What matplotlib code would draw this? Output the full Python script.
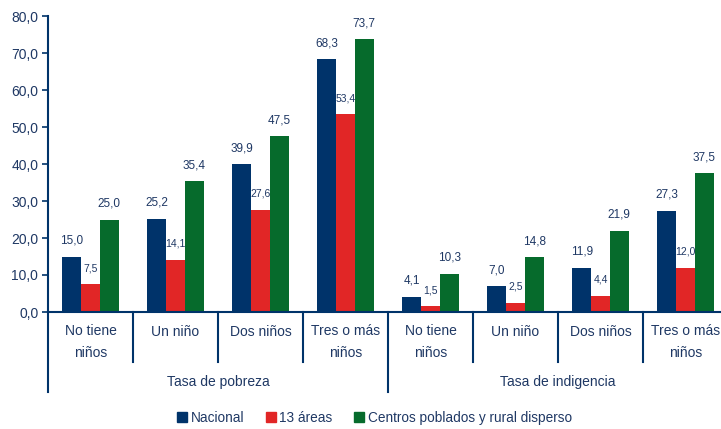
import matplotlib
matplotlib.use("Agg")
import matplotlib.pyplot as plt
from matplotlib.lines import Line2D

categorias = ["No tiene\nniños", "Un niño", "Dos niños", "Tres o más\nniños",
              "No tiene\nniños", "Un niño", "Dos niños", "Tres o más\nniños"]
grupos = ["Tasa de pobreza", "Tasa de indigencia"]
nacional = [15.0, 25.2, 39.9, 68.3, 4.1, 7.0, 11.9, 27.3]
areas13 = [7.5, 14.1, 27.6, 53.4, 1.5, 2.5, 4.4, 12.0]
rural = [25.0, 35.4, 47.5, 73.7, 10.3, 14.8, 21.9, 37.5]
series = ["Nacional", "13 áreas", "Centros poblados y rural disperso"]

azul = "#00336a"
rojo = "#e12626"
verde = "#066b2c"
texto = "#1f3864"

plt.rcParams['font.family'] = ['Liberation Sans', 'DejaVu Sans']

W, H = 721, 429
fig = plt.figure(figsize=(W / 100, H / 100), dpi=100)
# el eje va de x=48 a x=728 px (la ultima categoria queda recortada)
ax = fig.add_axes([48 / W, (H - 312) / H, 680 / W, 296 / H])

ancho = 0.22
x = [i + 0.5 for i in range(len(categorias))]
datos = [(nacional, azul, -ancho, 8.5), (areas13, rojo, 0, 7.5), (rural, verde, ancho, 8.5)]
for valores, color, desp, fs in datos:
    xs = [xi + desp for xi in x]
    barras = ax.bar(xs, valores, width=ancho, color=color, linewidth=0)
    for b, v in zip(barras, valores):
        ax.annotate(f"{v:.1f}".replace(".", ","), (b.get_x() + b.get_width() / 2, v),
                    xytext=(0, 16), textcoords="offset pixels", ha="center", va="center",
                    fontsize=fs, color=texto)

ax.set_xlim(0, 8)
ax.set_ylim(0, 80)
ax.set_yticks(range(0, 81, 10))
ax.set_yticklabels([f"{v},0" for v in range(0, 81, 10)], fontsize=10, color=texto)
ax.set_xticks([])
ax.tick_params(axis="y", direction="out", length=4, width=1.2, color=azul, pad=3)

for s in ["top", "right"]:
    ax.spines[s].set_visible(False)
for s in ["left", "bottom"]:
    ax.spines[s].set_color(azul)
    ax.spines[s].set_linewidth(1.5)

tr = ax.get_xaxis_transform()
h = 296
# lineas divisorias bajo el eje
for i in range(1, 8):
    abajo = -80 / h if i == 4 else -50 / h
    ax.plot([i, i], [0, abajo], transform=tr, color=azul, lw=1.5, clip_on=False)
ax.plot([0, 0], [0, -80 / h], transform=tr, color=azul, lw=1.5, clip_on=False)

for xi, c in zip(x, categorias):
    yc = -30 / h if "\n" in c else -20 / h
    ax.text(xi, yc, c, transform=tr, ha="center", va="center", fontsize=10,
            color=texto, linespacing=1.7)
for j, g in enumerate(grupos):
    ax.text(2 + 4 * j, -70 / h, g, transform=tr, ha="center", va="center",
            fontsize=10, color=texto)

handles = [Line2D([], [], marker="s", ls="", color=c, markersize=6.5)
           for c in [azul, rojo, verde]]
fig.legend(handles, series, loc="center", bbox_to_anchor=(374.5 / W, (H - 418) / H),
           ncol=3, frameon=False, fontsize=9.8, handlelength=0.7, handletextpad=0.3,
           columnspacing=1.6, labelcolor=texto, borderaxespad=0, borderpad=0)

fig.savefig("out.png", dpi=100)
